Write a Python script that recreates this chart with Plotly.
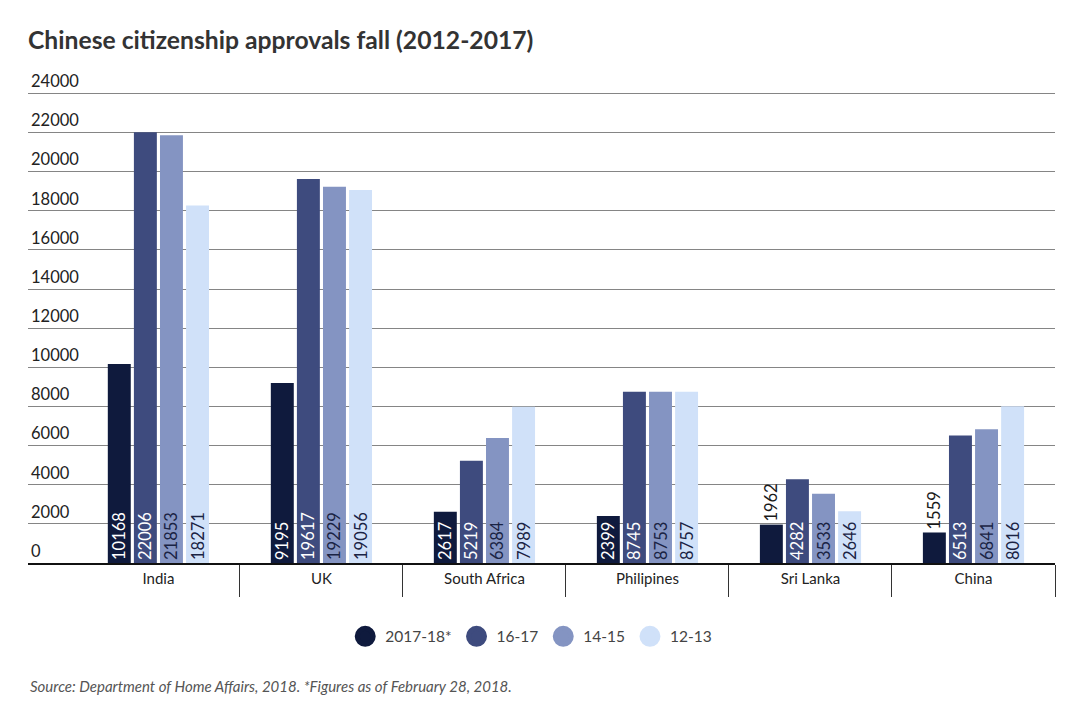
import plotly.graph_objects as go

# Data
countries = ["India", "UK", "South Africa", "Philipines", "Sri Lanka", "China"]
years = ["2017-18*", "16-17", "14-15", "12-13"]
v_2017_18 = [10168, 9195, 2617, 2399, 1962, 1559]
v_16_17 = [22006, 19617, 5219, 8745, 4282, 6513]
v_14_15 = [21853, 19229, 6384, 8753, 3533, 6841]
v_12_13 = [18271, 19056, 7989, 8757, 2646, 8016]
y_ticks = list(range(0, 24001, 2000))

series = [v_2017_18, v_16_17, v_14_15, v_12_13]
colors = ["#0f1a3d", "#3e4b7e", "#8494c2", "#d0e1f9"]
text_colors = ["white", "white", "#1a2344", "#1a2344"]

x_pos = list(range(len(countries)))

fig = go.Figure()

for name, vals, col, tcol in zip(years, series, colors, text_colors):
    # small bars get their label above the bar
    positions = ["inside" if v > 2300 else "outside" for v in vals]
    fig.add_trace(go.Bar(
        x=x_pos,
        y=vals,
        name=name,
        marker=dict(color=col, line=dict(width=0)),
        text=[str(v) for v in vals],
        textposition=positions,
        insidetextanchor="start",
        textangle=-90,
        insidetextfont=dict(color=tcol, size=16.5, family="Lato"),
        outsidetextfont=dict(color="#1a1a1a", size=16.5, family="Lato"),
        cliponaxis=False,
        showlegend=False,
    ))
    # legend entry with a round marker
    fig.add_trace(go.Scatter(
        x=[None], y=[None], mode="markers", name=name,
        marker=dict(color=col, size=16, symbol="circle",
                    line=dict(color=col, width=5)),
    ))

# labels of the categories on an overlaid axis
fig.add_trace(go.Scatter(x=x_pos, y=[None] * len(x_pos), xaxis="x2",
                         showlegend=False, hoverinfo="skip"))

boundaries = [i - 0.5 for i in range(len(countries) + 1)]

# page is drawn with an 8px body margin, so everything is nudged back
top_px = 85 - 1500 * 470 / 24000

fig.update_layout(
    width=1080,
    height=706,
    paper_bgcolor="white",
    plot_bgcolor="white",
    font=dict(family="Lato", color="#222222", size=14),
    title=dict(
        text="<b>Chinese citizenship approvals fall (2012-2017)</b>",
        x=20 / 1080, xanchor="left", y=1 - 32 / 706, yanchor="middle",
        font=dict(size=24.7, color="#333333", family="Lato"),
    ),
    barmode="group",
    bargap=0.36,
    bargroupgap=0.12,
    uniformtext=dict(minsize=16, mode="show"),
    margin=dict(l=20, r=33, t=top_px, b=151, autoexpand=False),
    xaxis=dict(
        range=[-0.8, 5.5],
        tickvals=boundaries,
        showticklabels=False,
        ticks="outside",
        ticklen=32,
        tickwidth=1,
        tickcolor="#333333",
        showgrid=False,
        showline=True,
        linecolor="#111111",
        linewidth=2,
        zeroline=False,
        fixedrange=True,
    ),
    xaxis2=dict(
        overlaying="x",
        anchor="y",
        side="bottom",
        range=[-0.8, 5.5],
        tickvals=x_pos,
        ticktext=countries,
        ticks="",
        showgrid=False,
        showline=False,
        zeroline=False,
        tickfont=dict(size=15, color="#222222"),
        ticklabelstandoff=5,
    ),
    yaxis=dict(
        range=[0, 25500],
        tickvals=y_ticks,
        ticktext=[str(t) for t in y_ticks],
        ticklabelposition="inside",
        ticklabelshift=-12,
        ticklen=0,
        showgrid=True,
        gridcolor="#858585",
        gridwidth=1,
        zeroline=False,
        showline=False,
        tickfont=dict(size=16.5, color="#222222"),
    ),
    legend=dict(
        orientation="h",
        x=0.49, xanchor="center",
        y=-0.157, yanchor="middle",
        font=dict(size=15.5, color="#444444"),
    ),
    annotations=[dict(
        text="<i>Source: Department of Home Affairs, 2018. *Figures as of February 28, 2018.</i>",
        xref="paper", yref="paper", x=0, y=-0.262 * 470 / (706 - top_px - 151),
        xanchor="left", yanchor="middle", showarrow=False,
        font=dict(size=15, color="#555555", family="Lato"),
    )],
)
fig.layout.legend.y = -0.157 * 470 / (706 - top_px - 151)

fig.write_html("out.html")
